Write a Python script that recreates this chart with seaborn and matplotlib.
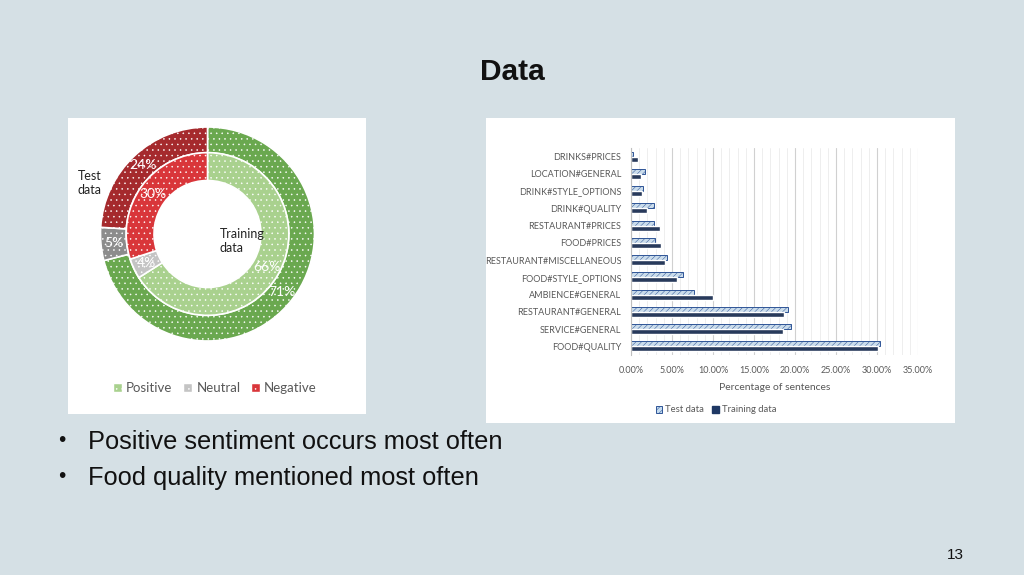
import pandas as pd
import matplotlib
matplotlib.use("Agg")
import matplotlib.pyplot as plt
import seaborn as sns
from matplotlib.patches import Rectangle, Patch
from matplotlib.ticker import FuncFormatter, MultipleLocator

# sentiment split (donut)
sentiments = ["Positive", "Neutral", "Negative"]
test_sentiment = [71, 5, 24]
train_sentiment = [66, 4, 30]

# aspect categories (bar chart), values in percent of sentences
categories = [
    "DRINKS#PRICES", "LOCATION#GENERAL", "DRINK#STYLE_OPTIONS", "DRINK#QUALITY",
    "RESTAURANT#PRICES", "FOOD#PRICES", "RESTAURANT#MISCELLANEOUS",
    "FOOD#STYLE_OPTIONS", "AMBIENCE#GENERAL", "RESTAURANT#GENERAL",
    "SERVICE#GENERAL", "FOOD#QUALITY",
]
test_pct = [0.3, 1.7, 1.5, 2.8, 2.8, 2.9, 4.4, 6.4, 7.7, 19.1, 19.5, 30.4]
train_pct = [0.8, 1.2, 1.3, 2.0, 3.5, 3.6, 4.2, 5.6, 10.0, 18.6, 18.5, 30.1]

bullets = ["Positive sentiment occurs most often", "Food quality mentioned most often"]

sns.set_style("white")
plt.rcParams["font.family"] = ["Lato", "DejaVu Sans"]
plt.rcParams["hatch.linewidth"] = 0.35

W, H = 1024, 575
fig = plt.figure(figsize=(W / 100, H / 100), dpi=100)
fig.patch.set_facecolor("#d5e0e5")


def px_axes(x0, y0, x1, y1):
    return fig.add_axes([x0 / W, 1 - y1 / H, (x1 - x0) / W, (y1 - y0) / H])


# white panels behind both charts
for x0, y0, x1, y1 in [(68, 118, 366, 414), (486, 118, 955, 423)]:
    fig.patches.append(Rectangle((x0 / W, 1 - y1 / H), (x1 - x0) / W, (y1 - y0) / H,
                                 transform=fig.transFigure, facecolor="white",
                                 edgecolor="none", zorder=-5))

# slide text
fig.text(512 / W, 1 - 72 / H, "Data", ha="center", va="center", fontsize=21.5,
         fontweight="bold", family="Liberation Sans", color="#111111")
for i, b in enumerate(bullets):
    y = 1 - (449 + 36 * i) / H
    fig.text(58 / W, y + 3 / H, "\u2022", ha="left", va="baseline", fontsize=15,
             family="Liberation Sans", color="#111111")
    fig.text(88 / W, y, b, ha="left", va="baseline", fontsize=18.3,
             family="Liberation Sans", color="#111111")
fig.text(955 / W, 1 - 555 / H, "13", ha="center", va="center", fontsize=11,
         family="Liberation Sans", color="#111111")

# ---- donut ----
cx, cy, R = 207.5, 234, 107
axp = px_axes(cx - R, cy - R, cx + R, cy + R)
outer_cols = ["#6aa84f", "#8c8c8c", "#a52a2d"]
inner_cols = ["#a9d18e", "#c4c4c4", "#d9363a"]
w_out, t_out, _ = axp.pie(test_sentiment, radius=1.0, colors=outer_cols, startangle=90,
                          counterclock=False, autopct="%d%%", pctdistance=0.88,
                          wedgeprops=dict(width=0.24, edgecolor="white", linewidth=1.2),
                          textprops=dict(color="white", fontsize=10))
w_in, t_in, _ = axp.pie(train_sentiment, radius=0.76, colors=inner_cols, startangle=90,
                        counterclock=False, autopct="%d%%", pctdistance=0.83,
                        wedgeprops=dict(width=0.26, edgecolor="white", linewidth=1.2),
                        textprops=dict(color="white", fontsize=10))
for w in list(w_out) + list(w_in):
    w.set_hatch("...")
axp.set_aspect("equal")
axp.set_xlim(-1, 1)
axp.set_ylim(-1, 1)
axp.axis("off")

fig.text(78 / W, 1 - 183 / H, "Test\ndata", ha="left", va="center", fontsize=9,
         color="#222222", linespacing=1.15)
fig.text(220 / W, 1 - 241 / H, "Training\ndata", ha="left", va="center", fontsize=9,
         color="#222222", linespacing=1.15)
fig.legend(handles=[Patch(facecolor=c, edgecolor="white", hatch="...") for c in inner_cols],
           labels=sentiments, loc="center", bbox_to_anchor=(215 / W, 1 - 388 / H),
           ncol=3, frameon=False, fontsize=9.5, handlelength=0.7, handleheight=0.7,
           handletextpad=0.3, columnspacing=0.8, labelcolor="#595959")

# ---- bar chart ----
df = pd.DataFrame({
    "category": categories * 2,
    "pct": test_pct + train_pct,
    "dataset": ["Test data"] * len(categories) + ["Training data"] * len(categories),
})
axb = px_axes(631, 148, 918, 355)
axb.set_facecolor("none")
sns.barplot(data=df, x="pct", y="category", hue="dataset", order=categories,
            hue_order=["Test data", "Training data"],
            palette={"Test data": "#c5dcf0", "Training data": "#1f3864"},
            width=0.58, orient="h", legend=False, ax=axb)
for bar in axb.containers[0]:
    bar.set_edgecolor("#2f5597")
    bar.set_hatch("//////")
    bar.set_linewidth(0.7)
axb.set_xlim(0, 35)
axb.xaxis.set_major_locator(MultipleLocator(5))
axb.xaxis.set_minor_locator(MultipleLocator(1))
axb.xaxis.set_major_formatter(FuncFormatter(lambda v, p: f"{v:.2f}%"))
axb.grid(axis="x", which="major", color="#d0d0d0", linewidth=0.8)
axb.grid(axis="x", which="minor", color="#ebebeb", linewidth=0.6)
axb.set_axisbelow(True)
for s in ["top", "right", "bottom"]:
    axb.spines[s].set_visible(False)
axb.spines["left"].set_color("#bfbfbf")
axb.spines["left"].set_linewidth(0.8)
axb.tick_params(axis="both", which="both", length=0, labelsize=6.5, labelcolor="#595959")
axb.tick_params(axis="y", pad=7)
axb.tick_params(axis="x", pad=8)
axb.set_ylabel("")
axb.set_xlabel("Percentage of sentences", fontsize=7.5, color="#595959", labelpad=6)
fig.legend(handles=[Patch(facecolor="#c5dcf0", edgecolor="#2f5597", hatch="//////", linewidth=0.7),
                    Patch(facecolor="#1f3864", edgecolor="#1f3864")],
           labels=["Test data", "Training data"], loc="center",
           bbox_to_anchor=(716 / W, 1 - 410 / H), ncol=2, frameon=False, fontsize=6.8,
           handlelength=0.7, handleheight=0.7, handletextpad=0.3, columnspacing=0.9,
           labelcolor="#595959")

fig.savefig("out.png", dpi=100, facecolor=fig.get_facecolor())
